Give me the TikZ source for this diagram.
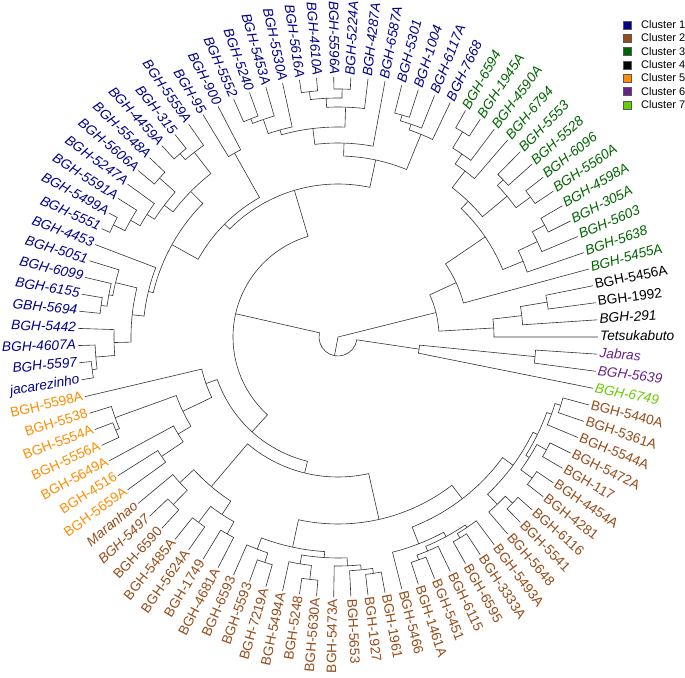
\documentclass[tikz,border=0pt]{standalone}
\usepackage{fontspec}
\setmainfont{Liberation Sans}
\usepackage{tikz}

\definecolor{clone}{RGB}{0,0,139}
\definecolor{cltwo}{RGB}{150,75,25}
\definecolor{clthree}{RGB}{0,100,0}
\definecolor{clfour}{RGB}{0,0,0}
\definecolor{clfive}{RGB}{255,140,0}
\definecolor{clsix}{RGB}{104,34,139}
\definecolor{clseven}{RGB}{102,205,0}

\tikzset{
  branch/.style={line width=0.6pt, draw=black!80},
  tiplabel/.style={inner xsep=2pt, inner ysep=0pt, text height=0.72em, text depth=0pt, font=\fontsize{13.7}{15}\selectfont},
  legbox/.style={draw=black!65, line width=0.6pt, minimum size=8pt, inner sep=0pt},
  legtext/.style={anchor=west, inner sep=0pt, text height=0.72em, text depth=0pt, font=\fontsize{11}{13}\selectfont}
}

\newcommand{\addleaf}[5]{%
  \pgfmathsetmacro{\lang}{64.42+#2*3.789474}%
  \expandafter\xdef\csname ang@#1\endcsname{\lang}%
  \coordinate (#1) at (\lang:260pt);
  \pgfmathtruncatemacro{\lflip}{(\lang>90)&&(\lang<270)}%
  \ifnum\lflip=1
    \pgfmathsetmacro{\lrot}{\lang-180}%
    \node[tiplabel, text=#3, anchor=east, rotate=\lrot] (#1-lab) at (#1) {#4#5};
  \else
    \node[tiplabel, text=#3, anchor=west, rotate=\lang] (#1-lab) at (#1) {#4#5};
  \fi
}

\newcommand{\addclade}[4]{%
  \edef\cone{\csname ang@#3\endcsname}%
  \edef\ctwo{\csname ang@#4\endcsname}%
  \pgfmathsetmacro{\cang}{(\cone+\ctwo)/2}%
  \expandafter\xdef\csname ang@#1\endcsname{\cang}%
  \coordinate (#1) at (\cang:#2pt);
  \draw[branch] (#1) arc[start angle=\cang, end angle=\cone, radius=#2pt] -- (#3);
  \draw[branch] (#1) arc[start angle=\cang, end angle=\ctwo, radius=#2pt] -- (#4);
}

\begin{document}
\begin{tikzpicture}[x=1pt, y=1pt]
\useasboundingbox (-338,-340) rectangle (347,337);

\addleaf{b7668}{0}{clone}{\itshape}{BGH-7668}
\addleaf{b6117A}{1}{clone}{\itshape}{BGH-6117A}
\addleaf{b1004}{2}{clone}{\itshape}{BGH-1004}
\addleaf{b5301}{3}{clone}{\itshape}{BGH-5301}
\addleaf{b6587A}{4}{clone}{\itshape}{BGH-6587A}
\addleaf{b4287A}{5}{clone}{\itshape}{BGH-4287A}
\addleaf{b5224A}{6}{clone}{\itshape}{BGH-5224A}
\addleaf{b5596A}{7}{clone}{\itshape}{BGH-5596A}
\addleaf{b4610A}{8}{clone}{\itshape}{BGH-4610A}
\addleaf{b5616A}{9}{clone}{\itshape}{BGH-5616A}
\addleaf{b5530A}{10}{clone}{\itshape}{BGH-5530A}
\addleaf{b5453A}{11}{clone}{\itshape}{BGH-5453A}
\addleaf{b5240}{12}{clone}{\itshape}{BGH-5240}
\addleaf{b5552}{13}{clone}{\itshape}{BGH-5552}
\addleaf{b900}{14}{clone}{\itshape}{BGH-900}
\addleaf{b95}{15}{clone}{\itshape}{BGH-95}
\addleaf{b5559A}{16}{clone}{\itshape}{BGH-5559A}
\addleaf{b315}{17}{clone}{\itshape}{BGH-315}
\addleaf{b4459A}{18}{clone}{\itshape}{BGH-4459A}
\addleaf{b5548A}{19}{clone}{\itshape}{BGH-5548A}
\addleaf{b5606A}{20}{clone}{\itshape}{BGH-5606A}
\addleaf{b5247A}{21}{clone}{\itshape}{BGH-5247A}
\addleaf{b5591A}{22}{clone}{\itshape}{BGH-5591A}
\addleaf{b5499A}{23}{clone}{\itshape}{BGH-5499A}
\addleaf{b5551}{24}{clone}{\itshape}{BGH-5551}
\addleaf{b4453}{25}{clone}{\itshape}{BGH-4453}
\addleaf{b5051}{26}{clone}{\itshape}{BGH-5051}
\addleaf{b6099}{27}{clone}{\itshape}{BGH-6099}
\addleaf{b6155}{28}{clone}{\itshape}{BGH-6155}
\addleaf{g5694}{29}{clone}{\itshape}{GBH-5694}
\addleaf{b5442}{30}{clone}{\itshape}{BGH-5442}
\addleaf{b4607A}{31}{clone}{\itshape}{BGH-4607A}
\addleaf{b5597}{32}{clone}{\itshape}{BGH-5597}
\addleaf{jac}{33}{clone}{\itshape}{jacarezinho}
\addleaf{b5598A}{34}{clfive}{}{BGH-5598A}
\addleaf{b5538}{35}{clfive}{}{BGH-5538}
\addleaf{b5554A}{36}{clfive}{}{BGH-5554A}
\addleaf{b5556A}{37}{clfive}{}{BGH-5556A}
\addleaf{b5649A}{38}{clfive}{}{BGH-5649A}
\addleaf{b4516}{39}{clfive}{}{BGH-4516}
\addleaf{b5659A}{40}{clfive}{}{BGH-5659A}
\addleaf{mar}{41}{cltwo}{\itshape}{Maranhao}
\addleaf{b5497}{42}{cltwo}{\itshape}{BGH-5497}
\addleaf{b6590}{43}{cltwo}{}{BGH-6590}
\addleaf{b5485A}{44}{cltwo}{}{BGH-5485A}
\addleaf{b5624A}{45}{cltwo}{}{BGH-5624A}
\addleaf{b1749}{46}{cltwo}{}{BGH-1749}
\addleaf{b4681A}{47}{cltwo}{}{BGH-4681A}
\addleaf{b6593}{48}{cltwo}{}{BGH-6593}
\addleaf{b5593}{49}{cltwo}{}{BGH-5593}
\addleaf{b7219A}{50}{cltwo}{}{BGH-7219A}
\addleaf{b5494A}{51}{cltwo}{}{BGH-5494A}
\addleaf{b5248}{52}{cltwo}{}{BGH-5248}
\addleaf{b5630A}{53}{cltwo}{}{BGH-5630A}
\addleaf{b5473A}{54}{cltwo}{}{BGH-5473A}
\addleaf{b5653}{55}{cltwo}{}{BGH-5653}
\addleaf{b1927}{56}{cltwo}{}{BGH-1927}
\addleaf{b1961}{57}{cltwo}{}{BGH-1961}
\addleaf{b5466}{58}{cltwo}{}{BGH-5466}
\addleaf{b1461A}{59}{cltwo}{}{BGH-1461A}
\addleaf{b5451}{60}{cltwo}{}{BGH-5451}
\addleaf{b6115}{61}{cltwo}{}{BGH-6115}
\addleaf{b6595}{62}{cltwo}{}{BGH-6595}
\addleaf{b3333A}{63}{cltwo}{}{BGH-3333A}
\addleaf{b5493A}{64}{cltwo}{}{BGH-5493A}
\addleaf{b5648}{65}{cltwo}{}{BGH-5648}
\addleaf{b5541}{66}{cltwo}{}{BGH-5541}
\addleaf{b6116}{67}{cltwo}{}{BGH-6116}
\addleaf{b4281}{68}{cltwo}{}{BGH-4281}
\addleaf{b4454A}{69}{cltwo}{}{BGH-4454A}
\addleaf{b117}{70}{cltwo}{}{BGH-117}
\addleaf{b5472A}{71}{cltwo}{}{BGH-5472A}
\addleaf{b5544A}{72}{cltwo}{}{BGH-5544A}
\addleaf{b5361A}{73}{cltwo}{}{BGH-5361A}
\addleaf{b5440A}{74}{cltwo}{}{BGH-5440A}
\addleaf{b6749}{75}{clseven}{\itshape}{BGH-6749}
\addleaf{b5639}{76}{clsix}{\itshape}{BGH-5639}
\addleaf{jab}{77}{clsix}{\itshape}{Jabras}
\addleaf{tet}{78}{clfour}{\itshape}{Tetsukabuto}
\addleaf{b291}{79}{clfour}{\itshape}{BGH-291}
\addleaf{b1992}{80}{clfour}{}{BGH-1992}
\addleaf{b5456A}{81}{clfour}{}{BGH-5456A}
\addleaf{b5455A}{82}{clthree}{\itshape}{BGH-5455A}
\addleaf{b5638}{83}{clthree}{\itshape}{BGH-5638}
\addleaf{b5603}{84}{clthree}{\itshape}{BGH-5603}
\addleaf{b305A}{85}{clthree}{\itshape}{BGH-305A}
\addleaf{b4598A}{86}{clthree}{\itshape}{BGH-4598A}
\addleaf{b5560A}{87}{clthree}{\itshape}{BGH-5560A}
\addleaf{b6096}{88}{clthree}{\itshape}{BGH-6096}
\addleaf{b5528}{89}{clthree}{\itshape}{BGH-5528}
\addleaf{b5553}{90}{clthree}{\itshape}{BGH-5553}
\addleaf{b6794}{91}{clthree}{\itshape}{BGH-6794}
\addleaf{b4590A}{92}{clthree}{\itshape}{BGH-4590A}
\addleaf{b1945A}{93}{clthree}{\itshape}{BGH-1945A}
\addleaf{b6594}{94}{clthree}{\itshape}{BGH-6594}

\addclade{n3}{212}{b5456A}{b1992}
\addclade{n2}{185}{n3}{b291}
\addclade{k1}{156}{n2}{tet}
\addclade{y1}{235}{b4598A}{b305A}
\addclade{y2}{221}{y1}{b5603}
\addclade{x2}{200}{y2}{b5638}
\addclade{w1}{240}{b6594}{b1945A}
\addclade{w2}{221}{w1}{b4590A}
\addclade{w3}{209}{w2}{b6794}
\addclade{z1}{228}{b5553}{b5528}
\addclade{z2}{238}{b6096}{b5560A}
\addclade{z3}{220}{z1}{z2}
\addclade{x1}{188}{w3}{z3}
\addclade{x0}{178}{x1}{x2}
\addclade{g4}{130}{x0}{b5455A}
\addclade{rr}{101}{g4}{k1}

\addclade{pp1}{198}{jab}{b5639}
\addclade{pp}{82}{pp1}{b6749}

\addclade{t1a}{231}{b5301}{b1004}
\addclade{t1b}{225}{t1a}{b6117A}
\addclade{t1}{219}{t1b}{b7668}
\addclade{t6a}{248}{b5596A}{b5224A}
\addclade{t6b}{247}{b5616A}{b4610A}
\addclade{t6}{239}{t6b}{t6a}
\addclade{t4}{230}{t6}{b4287A}
\addclade{t7a}{235}{b5552}{b5240}
\addclade{t7}{230}{t7a}{b5453A}
\addclade{t5}{215}{t7}{b5530A}
\addclade{t3}{210}{t5}{t4}
\addclade{t2}{194}{t3}{b6587A}
\addclade{tt}{181}{t2}{t1}
\addclade{b3}{211}{b95}{b900}
\addclade{b7a}{242}{b4459A}{b315}
\addclade{b7}{234}{b7a}{b5559A}
\addclade{b8a}{239}{b5606A}{b5548A}
\addclade{b8b}{251}{b5551}{b5499A}
\addclade{b8c}{238}{b8b}{b5591A}
\addclade{b8d}{227}{b8c}{b5247A}
\addclade{b8}{218}{b8d}{b8a}
\addclade{b5}{207}{b8}{b7}
\addclade{b11a}{248}{jac}{b5597}
\addclade{b11b}{243}{b11a}{b4607A}
\addclade{b11}{224}{b11b}{b5442}
\addclade{b10a}{239}{g5694}{b6155}
\addclade{b10b}{233}{b10a}{b6099}
\addclade{b10}{229}{b10b}{b5051}
\addclade{b9}{207}{b11}{b10}
\addclade{b6}{195}{b9}{b4453}
\addclade{b4}{190}{b6}{b5}
\addclade{b2}{160}{b4}{b3}
\addclade{b1}{153}{b2}{tt}

\addclade{o3a}{241}{b5556A}{b5554A}
\addclade{o3}{237}{o3a}{b5538}
\addclade{o4a}{213}{b5659A}{b4516}
\addclade{o4}{187}{o4a}{b5649A}
\addclade{o2}{172}{o4}{o3}
\addclade{oo}{140}{o2}{b5598A}

\addclade{br3a}{235}{b6590}{b5497}
\addclade{br3}{215}{br3a}{mar}
\addclade{br4a}{232}{b5624A}{b5485A}
\addclade{br4b}{226}{b4681A}{b1749}
\addclade{br4}{212}{br4b}{br4a}
\addclade{br1}{196}{br4}{br3}
\addclade{br7a}{237}{b7219A}{b5593}
\addclade{br7}{227}{br7a}{b6593}
\addclade{br9a}{244}{b5630A}{b5248}
\addclade{br9}{230}{br9a}{b5494A}
\addclade{br10a}{239}{b1961}{b1927}
\addclade{br10b}{234}{br10a}{b5653}
\addclade{br10}{229}{br10b}{b5473A}
\addclade{br8}{221}{br10}{br9}
\addclade{br5}{215}{br8}{br7}
\addclade{br13a}{237}{b5451}{b1461A}
\addclade{br13b}{232}{b6115}{br13a}
\addclade{br13c}{235}{b3333A}{b6595}
\addclade{br13d}{230}{b5493A}{br13c}
\addclade{br13}{227}{br13d}{br13b}
\addclade{br11}{222}{br13}{b5466}
\addclade{br14a}{241}{b6116}{b5541}
\addclade{br14}{231}{br14a}{b5648}
\addclade{br15a}{240}{b4454A}{b4281}
\addclade{br15b}{237}{b5472A}{b117}
\addclade{br15c}{226}{br15b}{br15a}
\addclade{br15d}{233}{b5440A}{b5361A}
\addclade{br15e}{227}{br15d}{b5544A}
\addclade{br15}{222}{br15e}{br15c}
\addclade{br12}{217}{br15}{br14}
\addclade{br6}{204}{br12}{br11}
\addclade{br2}{187}{br6}{br5}
\addclade{br}{140}{br2}{br1}
\addclade{ob}{128}{br}{oo}
\addclade{ll}{105}{ob}{b1}
\addclade{qq}{19}{pp}{ll}

\coordinate (root) at (0,0);
\draw[branch] (root) -- (qq);
\draw[branch] (root) -- (rr);

\node[legbox, fill=clone] (leg1) at (289,312) {};
\node[legbox, fill=cltwo] (leg2) at (289,298.67) {};
\node[legbox, fill=clthree] (leg3) at (289,285.33) {};
\node[legbox, fill=clfour] (leg4) at (289,272) {};
\node[legbox, fill=clfive] (leg5) at (289,258.67) {};
\node[legbox, fill=clsix] (leg6) at (289,245.33) {};
\node[legbox, fill=clseven] (leg7) at (289,232) {};
\node[legtext] (leg1-t) at (303,312) {Cluster 1};
\node[legtext] (leg2-t) at (303,298.67) {Cluster 2};
\node[legtext] (leg3-t) at (303,285.33) {Cluster 3};
\node[legtext] (leg4-t) at (303,272) {Cluster 4};
\node[legtext] (leg5-t) at (303,258.67) {Cluster 5};
\node[legtext] (leg6-t) at (303,245.33) {Cluster 6};
\node[legtext] (leg7-t) at (303,232) {Cluster 7};
\end{tikzpicture}
\end{document}
